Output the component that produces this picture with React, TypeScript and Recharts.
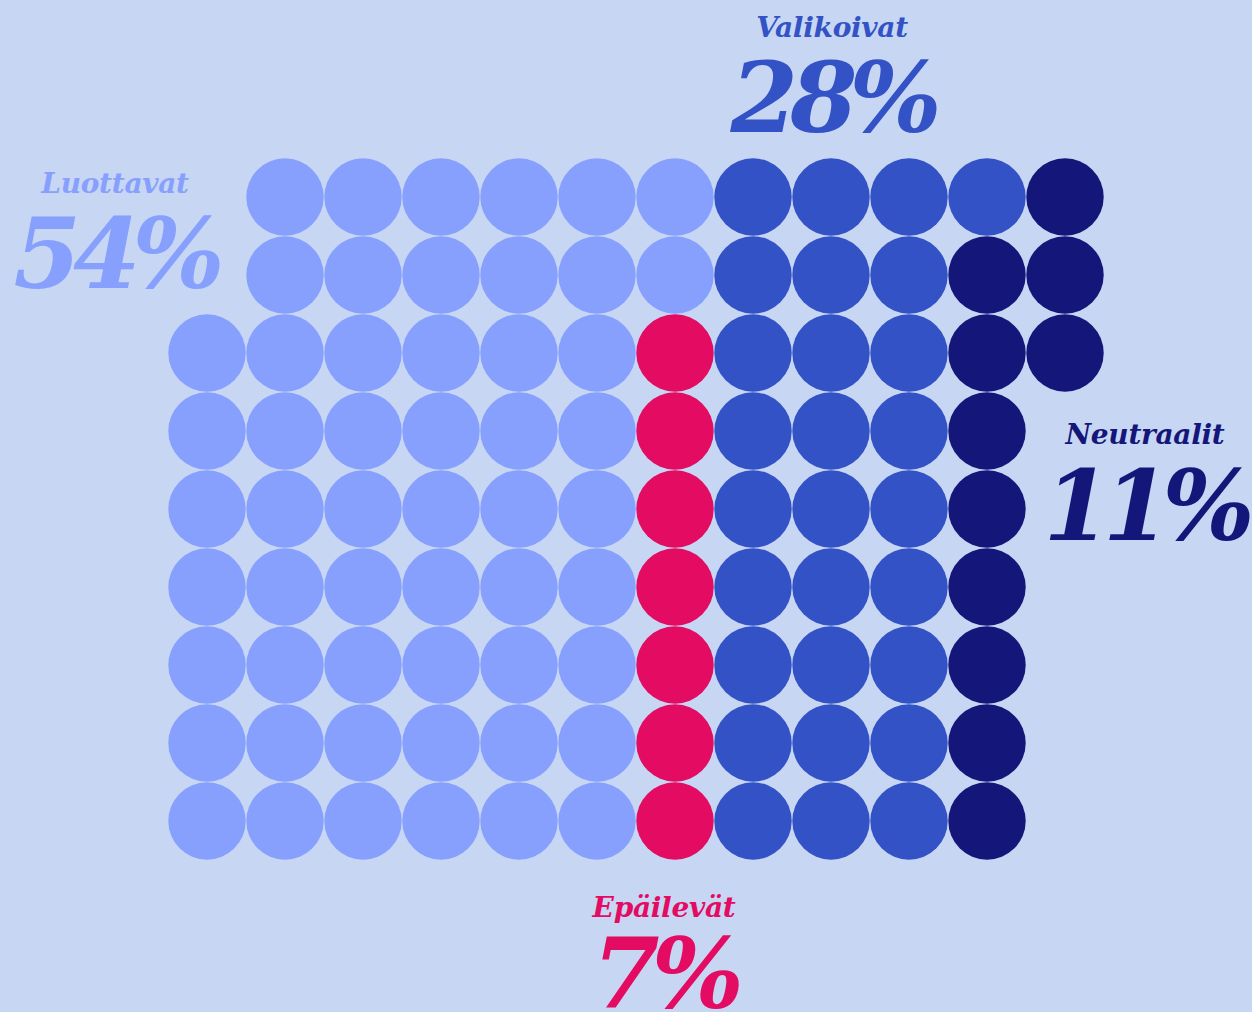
import React from 'react';
import { ScatterChart, Scatter, XAxis, YAxis } from 'recharts';

// categories and their shares (%)
const categories = ['Luottavat', 'Valikoivat', 'Neutraalit', 'Epäilevät'];
const shares = [54, 28, 11, 7];
const codes = ['L', 'V', 'N', 'E'];
const colors = ['#87a0fd', '#3352c5', '#15167a', '#e30b62'];

// waffle layout, one letter per dot (space = empty cell)
const gridRows = [
  ' LLLLLLVVVVN',
  ' LLLLLLVVVNN',
  'LLLLLLEVVVNN',
  'LLLLLLEVVVN ',
  'LLLLLLEVVVN ',
  'LLLLLLEVVVN ',
  'LLLLLLEVVVN ',
  'LLLLLLEVVVN ',
  'LLLLLLEVVVN ',
];

// label placement (center x, label baseline, number baseline)
const labelPos = [
  { x: 115, y: 193, ny: 288 },
  { x: 832, y: 37, ny: 132 },
  { x: 1145, y: 444, ny: 540 },
  { x: 664, y: 917, ny: 1008 },
];

const W = 1252;
const H = 1012;
const BG = '#c6d6f3';
const FONT = '"DejaVu Serif", Georgia, serif';

const points = gridRows.flatMap((row, r) =>
  row.split('').map((ch, c) => ({ x: c, y: r, code: ch })).filter((p) => p.code !== ' ')
);

const Dot = (color: string) => (props: any) => (
  <circle cx={props.cx} cy={props.cy} r={38.7} fill={color} />
);

const App: React.FC = () => {
  return (
    <div style={{ position: 'relative', width: W, height: H, background: BG, overflow: 'hidden' }}>
      <style>{'body{margin:0}'}</style>
      <ScatterChart width={W} height={H} margin={{ top: 197, right: 187, bottom: 191, left: 207 }}>
        <XAxis type="number" dataKey="x" domain={[0, 11]} hide />
        <YAxis type="number" dataKey="y" domain={[0, 8]} reversed hide />
        {codes.map((code, i) => (
          <Scatter
            key={code}
            name={categories[i]}
            data={points.filter((p) => p.code === code)}
            fill={colors[i]}
            shape={Dot(colors[i])}
            isAnimationActive={false}
          />
        ))}
      </ScatterChart>
      <svg width={W} height={H} style={{ position: 'absolute', left: 0, top: 0, pointerEvents: 'none' }}>
        {categories.map((name, i) => (
          <g key={name} fill={colors[i]} fontFamily={FONT} fontStyle="italic" fontWeight="bold" textAnchor="middle">
            <text x={labelPos[i].x} y={labelPos[i].y} fontSize={28} letterSpacing={-0.3}>
              {name}
            </text>
            <text x={labelPos[i].x} y={labelPos[i].ny} fontSize={97} letterSpacing={-8}>
              {shares[i]}%
            </text>
          </g>
        ))}
      </svg>
    </div>
  );
};

export default App;
